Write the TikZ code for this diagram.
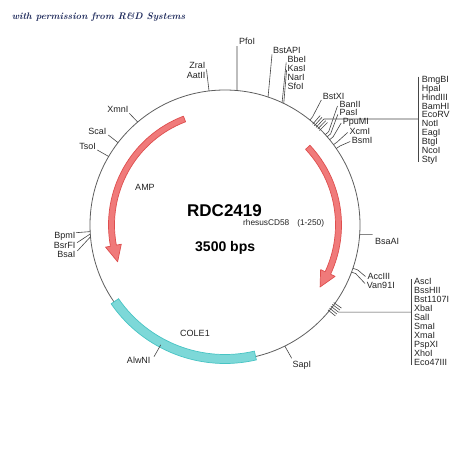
\documentclass[tikz,border=0pt]{standalone}
\usepackage{fontspec}
\newfontfamily\lab{Liberation Sans}
\usetikzlibrary{calc}
\definecolor{ring}{RGB}{95,95,95}
\definecolor{lead}{RGB}{70,70,70}
\definecolor{ampfill}{RGB}{240,122,122}
\definecolor{ampdraw}{RGB}{222,78,78}
\definecolor{colfill}{RGB}{125,216,216}
\definecolor{coldraw}{RGB}{72,196,196}
\definecolor{navy}{RGB}{28,40,90}
\definecolor{txt}{RGB}{35,35,35}
\begin{document}
\begin{tikzpicture}[x=1pt,y=-1pt,
  lbl/.style={font=\lab\fontsize{9}{9}\selectfont, text=txt, inner sep=0pt},
  lblL/.style={lbl, anchor=base west},
  lblR/.style={lbl, anchor=base east},
  leader/.style={draw=lead, line width=0.6pt},
  ringline/.style={draw=ring, line width=0.8pt},
  redband/.style={fill=ampfill, draw=ampdraw, line width=0.7pt, line join=round},
  cyanband/.style={fill=colfill, draw=coldraw, line width=0.7pt}]
\useasboundingbox (0,0) rectangle (450,450);
\fill[white] (0,0) rectangle (450,450);
\coordinate (C) at (225,225);

% header
\node[anchor=base west, inner sep=0pt, text=navy, font=\bfseries\itshape\fontsize{9.5}{12}\selectfont] (hdr) at (11.7,19.5) {with permission from R\&D Systems};

% backbone circle
\draw[ringline] (C) circle[radius=135];

% COLE1 band
\path[cyanband] ($(C)+(145.3:138.5)$) arc[start angle=145.3, end angle=76.9, radius=138.5]
  -- ($(C)+(76.9:129.5)$) arc[start angle=76.9, end angle=145.3, radius=129.5] -- cycle;

% AMP arrow (left)
\path[redband] ($(C)+(249.1:116.5)$) arc[start angle=249.1, end angle=169.5, radius=116.5]
  -- ($(C)+(169.5:121.5)$) -- ($(C)+(161.1:113.5)$) -- ($(C)+(169.5:105.5)$)
  -- ($(C)+(169.5:110.5)$) arc[start angle=169.5, end angle=249.1, radius=110.5] -- cycle;

% right arrow
\path[redband] ($(C)+(-43.2:116.5)$) arc[start angle=-43.2, end angle=25, radius=116.5]
  -- ($(C)+(25:121.5)$) -- ($(C)+(33.1:113.5)$) -- ($(C)+(25:105.5)$)
  -- ($(C)+(25:110.5)$) arc[start angle=25, end angle=-43.2, radius=110.5] -- cycle;

% centre texts
\node[anchor=base west, inner sep=0pt, font=\lab\bfseries\fontsize{17}{17}\selectfont, text=black] (title) at (187,216.7) {\raisebox{0pt}[\height][0pt]{RDC2419}};
\node[anchor=base west, inner sep=0pt, font=\lab\fontsize{8.3}{9}\selectfont, text=txt] (insert) at (243,225.2) {rhesusCD58\hspace{8pt}(1-250)};
\node[anchor=base west, inner sep=0pt, font=\lab\bfseries\fontsize{14}{14}\selectfont, text=black] (size) at (195,251) {3500 bps};
\node[lbl, anchor=center] (amp) at (145,187.3) {AMP};
\node[lbl, anchor=center] (cole) at (195,333.3) {COLE1};

% ---- top labels
\node[lblL] (pfoi) at (239,44.7) {PfoI};
\coordinate (pfoiC) at ($(C)+(-84.9:135)$);
\coordinate (pfoiE) at (237,46);
\draw[leader] (pfoiC) -- (pfoiE);

\node[lblR] (zrai) at (205.5,68.9) {ZraI};
\node[lblR] (aatii) at (205.5,78.2) {AatII};
\coordinate (aatC) at ($(C)+(-96.8:135)$);
\coordinate (aatE) at (206.5,69.5);
\draw[leader] (aatC) -- (aatE);

\node[lblL] (bstapi) at (273,53.9) {BstAPI};
\coordinate (bstapiC) at ($(C)+(-71.4:135)$);
\coordinate (bstapiE) at (272,54.5);
\draw[leader] (bstapiC) -- (bstapiE);

\foreach \t [count=\i from 0] in {BbeI,KasI,NarI,SfoI}
  \node[lblL] (grpA\i) at (287.3,62.5+9.15*\i) {\t};
\coordinate (bbeC) at ($(C)+(-65:135)$);
\coordinate (bbeE) at (286.2,62.5);
\coordinate (bbeC2) at ($(C)+(-64.2:135)$);
\coordinate (bbeE2) at (286.6,70);
\draw[leader] (bbeC) -- (bbeE);
\draw[leader] (bbeC2) -- (bbeE2);

\node[lblL] (bstxi) at (322.7,99.2) {BstXI};
\coordinate (bstxiC) at ($(C)+(-51:135)$);
\coordinate (bstxiM) at ($(C)+(-51:139)$);
\coordinate (bstxiE) at (321.3,100);
\draw[leader] (bstxiC) -- (bstxiM) -- (bstxiE);

% cluster 1
\foreach \a in {-49,-48,-47,-46,-45}
  \draw[leader] ($(C)+(\a:133.5)$) -- ($(C)+(\a:145)$);
\coordinate (cl1) at ($(C)+(-47:145)$);
\coordinate (br1) at (418.3,118.95);
\draw[leader] (cl1) -- (br1);
\coordinate (br1t) at (418.3,76.7);
\coordinate (br1b) at (418.3,161.7);
\draw[leader] (br1t) -- (br1b);
\foreach \t [count=\i from 0] in {BmgBI,HpaI,HindIII,BamHI,EcoRV,NotI,EagI,BtgI,NcoI,StyI}
  \node[lblL] (grpB\i) at (421.7,82.5+8.86*\i) {\t};

% BanII .. BsmI
\node[lblL] (banii) at (339.3,107.5) {BanII};
\node[lblL] (pasi) at (339.3,115.9) {PasI};
\node[lblL] (ppumi) at (342.7,124.2) {PpuMI};
\node[lblL] (xcmi) at (349.3,134.9) {XcmI};
\node[lblL] (bsmi) at (351.7,143.9) {BsmI};
\foreach \a/\x/\y in {-42/337.5/106, -40.8/337.8/114.5, -39.2/341.2/123, -36.5/347.6/132.5, -34.5/350.2/141.5}{
  \draw[leader] ($(C)+(\a:135)$) -- ($(C)+(\a:139.5)$) -- (\x,\y);
}

% ---- right labels
\node[lblL] (bsaai) at (375,244.2) {BsaAI};
\coordinate (bsaaiC) at ($(C)+(4:135)$);
\coordinate (bsaaiE) at (372.5,234.4);
\draw[leader] (bsaaiC) -- (bsaaiE);

\node[lblL] (acciii) at (367.3,279.9) {AccIII};
\node[lblL] (van) at (366.7,288.2) {Van91I};
\draw[leader] ($(C)+(18.7:135)$) -- ($(C)+(18.7:140)$) -- (365.5,276.5);
\draw[leader] ($(C)+(20.4:135)$) -- ($(C)+(20.4:139.5)$) -- (365,283.5);

% cluster 2
\foreach \a in {35.5,36.5,37.5,38.5,39.5}
  \draw[leader] ($(C)+(\a:133.5)$) -- ($(C)+(\a:143)$);
\coordinate (cl2) at ($(C)+(37.5:143)$);
\coordinate (br2) at (411.7,312.1);
\draw[leader] (cl2) -- (br2);
\coordinate (br2t) at (411.7,279.3);
\coordinate (br2b) at (411.7,365);
\draw[leader] (br2t) -- (br2b);
\foreach \t [count=\i from 0] in {AscI,BssHII,Bst1107I,XbaI,SalI,SmaI,XmaI,PspXI,XhoI,Eco47III}
  \node[lblL] (grpC\i) at (414,284.2+9.04*\i) {\t};

% ---- bottom
\node[lblL] (sapi) at (292.3,367.2) {SapI};
\coordinate (sapiC) at ($(C)+(63.7:135)$);
\coordinate (sapiE) at (291.7,358.3);
\draw[leader] (sapiC) -- (sapiE);

\node[lblR] (alwni) at (150.7,363.9) {AlwNI};
\coordinate (alwniC) at ($(C)+(118.2:136)$);
\coordinate (alwniE) at (154,356.7);
\draw[leader] (alwniC) -- (alwniE);

% ---- left
\node[lblR] (xmni) at (128.5,112.5) {XmnI};
\draw[leader] ($(C)+(-130.3:135)$) -- (129.3,113.3);
\node[lblR] (scai) at (106.5,134.9) {ScaI};
\draw[leader] ($(C)+(-142.4:135)$) -- (108.3,135);
\node[lblR] (tsoi) at (96,149.9) {TsoI};
\draw[leader] ($(C)+(-149.5:135)$) -- (97.3,150);

\node[lblR] (bpmi) at (75.5,238.2) {BpmI};
\node[lblR] (bsrfi) at (75.5,248.2) {BsrFI};
\node[lblR] (bsai) at (75.5,257.2) {BsaI};
\draw[leader] ($(C)+(177.2:135)$) -- (76,232.7);
\draw[leader] ($(C)+(176.2:135)$) -- (77,242.7);
\draw[leader] ($(C)+(175:135)$) -- (77.3,251);
\end{tikzpicture}
\end{document}
